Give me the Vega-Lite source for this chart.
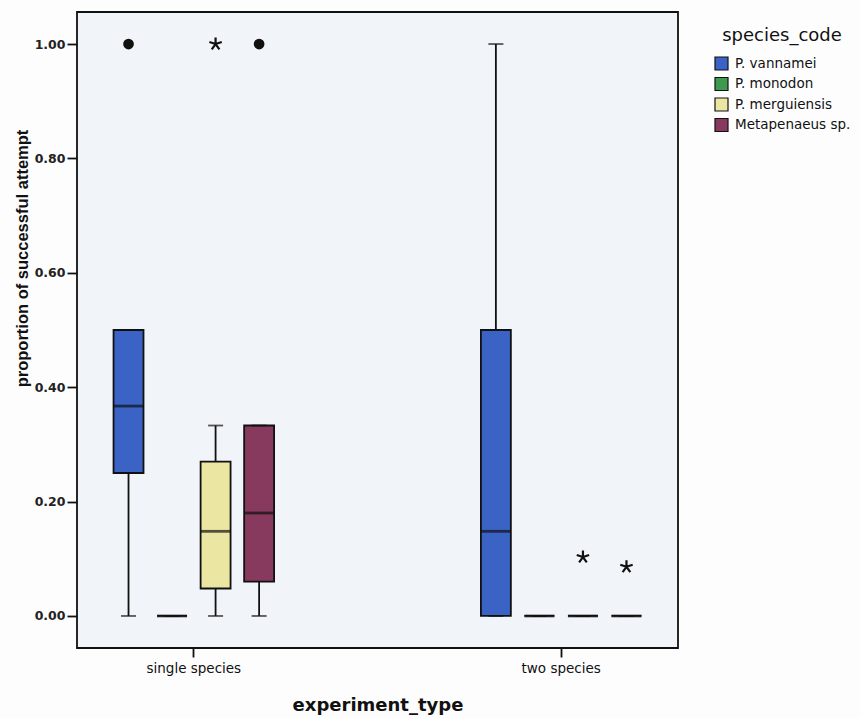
{
  "$schema": "https://vega.github.io/schema/vega-lite/v6.json",
  "autosize": "none",
  "width": 601,
  "height": 636,
  "padding": {"left": 77, "top": 12, "right": 182, "bottom": 70},
  "background": "#fdfdfe",
  "config": {
    "view": {"stroke": "#111111", "strokeWidth": 1.8, "fill": "#f1f5f9"},
    "font": "DejaVu Sans"
  },
  "datasets": {
    "stats": [
      {"experiment_type": "single species", "species_code": "P. vannamei", "lower": 0, "q1": 0.25, "median": 0.367, "q3": 0.5, "upper": 0.5},
      {"experiment_type": "single species", "species_code": "P. monodon", "lower": 0, "q1": 0, "median": 0, "q3": 0, "upper": 0},
      {"experiment_type": "single species", "species_code": "P. merguiensis", "lower": 0, "q1": 0.048, "median": 0.148, "q3": 0.27, "upper": 0.333},
      {"experiment_type": "single species", "species_code": "Metapenaeus sp.", "lower": 0, "q1": 0.06, "median": 0.18, "q3": 0.333, "upper": 0.333},
      {"experiment_type": "two species", "species_code": "P. vannamei", "lower": 0, "q1": 0, "median": 0.148, "q3": 0.5, "upper": 1.0},
      {"experiment_type": "two species", "species_code": "P. monodon", "lower": 0, "q1": 0, "median": 0, "q3": 0, "upper": 0},
      {"experiment_type": "two species", "species_code": "P. merguiensis", "lower": 0, "q1": 0, "median": 0, "q3": 0, "upper": 0},
      {"experiment_type": "two species", "species_code": "Metapenaeus sp.", "lower": 0, "q1": 0, "median": 0, "q3": 0, "upper": 0}
    ],
    "outliers": [
      {"experiment_type": "single species", "species_code": "P. vannamei", "value": 1.0, "kind": "outlier"},
      {"experiment_type": "single species", "species_code": "P. merguiensis", "value": 1.0, "kind": "extreme"},
      {"experiment_type": "single species", "species_code": "Metapenaeus sp.", "value": 1.0, "kind": "outlier"},
      {"experiment_type": "two species", "species_code": "P. merguiensis", "value": 0.103, "kind": "extreme"},
      {"experiment_type": "two species", "species_code": "Metapenaeus sp.", "value": 0.086, "kind": "extreme"}
    ]
  },
  "layer": [
    {
      "data": {"name": "stats"},
      "mark": {"type": "rule", "color": "#111111", "strokeWidth": 1.8},
      "encoding": {
        "x": {
          "field": "experiment_type", "type": "nominal",
          "scale": {"paddingInner": 0.526, "paddingOuter": 0.081},
          "axis": {
            "title": "experiment_type", "labelAngle": 0,
            "labelFont": "DejaVu Sans", "labelFontSize": 13.5, "labelColor": "#111111",
            "labelPadding": 4, "tickSize": 9, "tickWidth": 1.8, "tickColor": "#111111",
            "domain": false,
            "titleFont": "DejaVu Sans", "titleFontWeight": "bold", "titleFontSize": 18, "titleColor": "#111111",
            "titleY": 62, "titleBaseline": "alphabetic"
          }
        },
        "xOffset": {
          "field": "species_code", "type": "nominal",
          "sort": ["P. vannamei", "P. monodon", "P. merguiensis", "Metapenaeus sp."],
          "scale": {"paddingInner": 0.312, "paddingOuter": 0.156}
        },
        "y": {
          "field": "lower", "type": "quantitative",
          "scale": {"domain": [-0.056, 1.056], "nice": false, "zero": false},
          "axis": {
            "title": "proportion of successful attempt",
            "values": [0, 0.2, 0.4, 0.6, 0.8, 1.0], "format": ".2f", "grid": false,
            "labelFont": "DejaVu Sans", "labelFontSize": 12.5, "labelFontWeight": "bold", "labelColor": "#222222",
            "labelPadding": 2, "tickSize": 10, "tickWidth": 1.8, "tickColor": "#111111",
            "domain": false,
            "titleFont": "Liberation Sans", "titleFontWeight": "bold", "titleFontSize": 16.5, "titleColor": "#111111",
            "titleAngle": 270, "titleX": -55, "titleY": 246, "titleAlign": "center", "titleBaseline": "middle"
          }
        },
        "y2": {"field": "upper"}
      }
    },
    {
      "data": {"name": "stats"},
      "mark": {"type": "bar", "stroke": "#111111", "strokeWidth": 1.8},
      "encoding": {
        "x": {"field": "experiment_type", "type": "nominal"},
        "xOffset": {"field": "species_code", "type": "nominal", "sort": ["P. vannamei", "P. monodon", "P. merguiensis", "Metapenaeus sp."]},
        "y": {"field": "q1", "type": "quantitative"},
        "y2": {"field": "q3"},
        "color": {
          "field": "species_code", "type": "nominal",
          "scale": {
            "domain": ["P. vannamei", "P. monodon", "P. merguiensis", "Metapenaeus sp."],
            "range": ["#3b63c6", "#3e9a4e", "#ebe6a2", "#873a5e"]
          },
          "legend": {
            "title": "species_code", "orient": "none", "legendX": 637, "legendY": 15,
            "padding": 0, "symbolType": "square", "symbolSize": 169,
            "symbolStrokeColor": "#111111", "symbolStrokeWidth": 1.2, "symbolOpacity": 1,
            "labelFont": "DejaVu Sans", "labelFontSize": 13.5, "labelColor": "#111111", "labelOffset": 6,
            "rowPadding": 1.5,
            "titleFont": "DejaVu Sans", "titleFontSize": 18, "titleFontWeight": "normal", "titleColor": "#111111",
            "titleAnchor": "middle", "titlePadding": 11
          }
        }
      }
    },
    {
      "data": {"name": "stats"},
      "mark": {"type": "tick", "color": "#111111", "size": 30, "thickness": 2.8},
      "encoding": {
        "x": {"field": "experiment_type", "type": "nominal"},
        "xOffset": {"field": "species_code", "type": "nominal", "sort": ["P. vannamei", "P. monodon", "P. merguiensis", "Metapenaeus sp."]},
        "y": {"field": "median", "type": "quantitative"}
      }
    },
    {
      "data": {"name": "stats"},
      "mark": {"type": "tick", "color": "#111111", "size": 15, "thickness": 1.8},
      "encoding": {
        "x": {"field": "experiment_type", "type": "nominal"},
        "xOffset": {"field": "species_code", "type": "nominal", "sort": ["P. vannamei", "P. monodon", "P. merguiensis", "Metapenaeus sp."]},
        "y": {"field": "lower", "type": "quantitative"}
      }
    },
    {
      "data": {"name": "stats"},
      "mark": {"type": "tick", "color": "#111111", "size": 15, "thickness": 1.8},
      "encoding": {
        "x": {"field": "experiment_type", "type": "nominal"},
        "xOffset": {"field": "species_code", "type": "nominal", "sort": ["P. vannamei", "P. monodon", "P. merguiensis", "Metapenaeus sp."]},
        "y": {"field": "upper", "type": "quantitative"}
      }
    },
    {
      "data": {"name": "outliers"},
      "transform": [{"filter": "datum.kind === 'outlier'"}],
      "mark": {"type": "point", "shape": "circle", "filled": true, "color": "#111111", "size": 115, "opacity": 1},
      "encoding": {
        "x": {"field": "experiment_type", "type": "nominal"},
        "xOffset": {"field": "species_code", "type": "nominal", "sort": ["P. vannamei", "P. monodon", "P. merguiensis", "Metapenaeus sp."]},
        "y": {"field": "value", "type": "quantitative"}
      }
    },
    {
      "data": {"name": "outliers"},
      "transform": [{"filter": "datum.kind === 'extreme'"}],
      "mark": {"type": "point", "shape": "M0,0L0,-1M0,0L-0.951,-0.309M0,0L-0.588,0.809M0,0L0.588,0.809M0,0L0.951,-0.309", "filled": false, "stroke": "#111111", "strokeWidth": 2.2, "size": 170, "opacity": 1},
      "encoding": {
        "x": {"field": "experiment_type", "type": "nominal"},
        "xOffset": {"field": "species_code", "type": "nominal", "sort": ["P. vannamei", "P. monodon", "P. merguiensis", "Metapenaeus sp."]},
        "y": {"field": "value", "type": "quantitative"}
      }
    }
  ]
}
